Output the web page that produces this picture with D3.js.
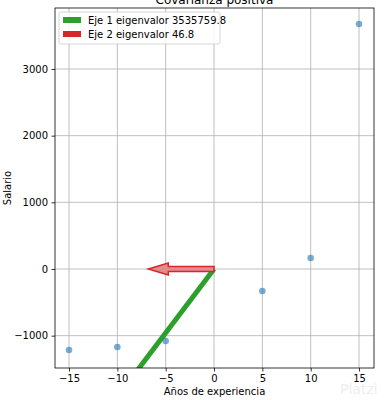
<!DOCTYPE html>
<html>
<head>
<meta charset="utf-8">
<script src="https://cdn.jsdelivr.net/npm/d3@7"></script>
<style>
  body { margin: 0; background: #fff; }
  text { font-family: "DejaVu Sans", sans-serif; }
</style>
</head>
<body>
<svg id="chart" width="384" height="400"></svg>
<script>
// data
const experiencia = [-15, -10, -5, 5, 10, 15];
const salario = [-1215, -1170, -1080, -330, 165, 3675];
const xTicks = [-15, -10, -5, 0, 5, 10, 15];
const yTicks = [-1000, 0, 1000, 2000, 3000];
const eje1 = [[0, 0], [-12, -2300]];
const eje2 = [[0, 0], [-6.8, 0]];
const legendLabels = ["Eje 1 eigenvalor 3535759.8", "Eje 2 eigenvalor 46.8"];
const legendColors = ["#2ca02c", "#d62728"];

const svg = d3.select("#chart");
const margin = { left: 55, right: 10, top: 8, bottom: 32 };
const width = 384, height = 400;

const x = d3.scaleLinear().domain([-16.45, 16.55]).range([margin.left, width - margin.right]);
const y = d3.scaleLinear().domain([-1485, 3915]).range([height - margin.bottom, margin.top]);

svg.append("defs").append("clipPath").attr("id", "clip")
  .append("rect")
  .attr("x", margin.left).attr("y", margin.top)
  .attr("width", width - margin.left - margin.right)
  .attr("height", height - margin.top - margin.bottom);

// grid
svg.append("g")
  .selectAll("line")
  .data(xTicks)
  .join("line")
  .attr("x1", d => x(d)).attr("x2", d => x(d))
  .attr("y1", margin.top).attr("y2", height - margin.bottom)
  .attr("stroke", "#b0b0b0").attr("stroke-width", 0.8);

svg.append("g")
  .selectAll("line")
  .data(yTicks)
  .join("line")
  .attr("y1", d => y(d)).attr("y2", d => y(d))
  .attr("x1", margin.left).attr("x2", width - margin.right)
  .attr("stroke", "#b0b0b0").attr("stroke-width", 0.8);

const plot = svg.append("g").attr("clip-path", "url(#clip)");

// eje 1 (green)
plot.append("line")
  .attr("x1", x(eje1[0][0])).attr("y1", y(eje1[0][1]))
  .attr("x2", x(eje1[1][0])).attr("y2", y(eje1[1][1]))
  .attr("stroke", "#2ca02c").attr("stroke-width", 5);

// eje 2 (red arrow)
function arrowPath(p0, p1) {
  const x0 = x(p0[0]), y0 = y(p0[1]);
  const x1 = x(p1[0]), y1 = y(p1[1]);
  const len = Math.hypot(x1 - x0, y1 - y0);
  const ux = (x1 - x0) / len, uy = (y1 - y0) / len;
  const nx = -uy, ny = ux;
  const w = 2.5, hw = 6, hl = 20;
  const bx = x1 - ux * hl, by = y1 - uy * hl;
  const pts = [
    [x0 + nx * w, y0 + ny * w],
    [bx + nx * w, by + ny * w],
    [bx + nx * hw, by + ny * hw],
    [x1, y1],
    [bx - nx * hw, by - ny * hw],
    [bx - nx * w, by - ny * w],
    [x0 - nx * w, y0 - ny * w]
  ];
  return "M" + pts.map(p => p.join(",")).join("L") + "Z";
}

plot.append("path")
  .attr("d", arrowPath(eje2[0], eje2[1]))
  .attr("fill", "#e88a8b")
  .attr("stroke", "#d62728").attr("stroke-width", 1.5)
  .attr("stroke-linejoin", "miter");

// points
plot.append("g")
  .selectAll("circle")
  .data(experiencia)
  .join("circle")
  .attr("cx", d => x(d))
  .attr("cy", (d, i) => y(salario[i]))
  .attr("r", 3.3)
  .attr("fill", "#1f77b4").attr("fill-opacity", 0.6);

// axes
const xAxis = svg.append("g")
  .attr("transform", `translate(0,${height - margin.bottom})`)
  .call(d3.axisBottom(x).tickValues(xTicks).tickSize(3.5).tickPadding(3.5).tickFormat(d => d < 0 ? "\u2212" + Math.abs(d) : d));
const yAxis = svg.append("g")
  .attr("transform", `translate(${margin.left},0)`)
  .call(d3.axisLeft(y).tickValues(yTicks).tickSize(3.5).tickPadding(3.5).tickFormat(d => d < 0 ? "\u2212" + Math.abs(d) : d));
[xAxis, yAxis].forEach(a => {
  a.select(".domain").remove();
  a.selectAll("text").attr("font-size", 10).attr("fill", "#000").style("font-family", "DejaVu Sans, sans-serif");
  a.selectAll("line").attr("stroke", "#000").attr("stroke-width", 0.8);
});

// frame
svg.append("rect")
  .attr("x", margin.left).attr("y", margin.top)
  .attr("width", width - margin.left - margin.right)
  .attr("height", height - margin.top - margin.bottom)
  .attr("fill", "none").attr("stroke", "#000").attr("stroke-width", 0.8);

// labels
svg.append("text")
  .attr("x", (margin.left + width - margin.right) / 2).attr("y", 4)
  .attr("text-anchor", "middle").attr("font-size", 12)
  .text("Covarianza positiva");

svg.append("text")
  .attr("x", (margin.left + width - margin.right) / 2).attr("y", 395)
  .attr("text-anchor", "middle").attr("font-size", 10)
  .text("Años de experiencia");

svg.append("text")
  .attr("transform", `translate(11,${(margin.top + height - margin.bottom) / 2}) rotate(-90)`)
  .attr("text-anchor", "middle").attr("font-size", 10)
  .text("Salario");

// legend
const legend = svg.append("g").attr("transform", "translate(59,12)");
legend.append("rect")
  .attr("width", 161).attr("height", 32).attr("rx", 2)
  .attr("fill", "#fff").attr("fill-opacity", 0.8)
  .attr("stroke", "#ccc").attr("stroke-width", 0.8);
legendLabels.forEach((lab, i) => {
  legend.append("rect")
    .attr("x", 4).attr("y", 5 + i * 14)
    .attr("width", 18).attr("height", 6)
    .attr("fill", legendColors[i]);
  legend.append("text")
    .attr("x", 29).attr("y", 12 + i * 14)
    .attr("font-size", 10)
    .text(lab);
});

// watermark
svg.append("text")
  .attr("x", 340).attr("y", 394)
  .attr("font-size", 14).attr("fill", "#eeeeee")
  .text("Platzi");
</script>
</body>
</html>
